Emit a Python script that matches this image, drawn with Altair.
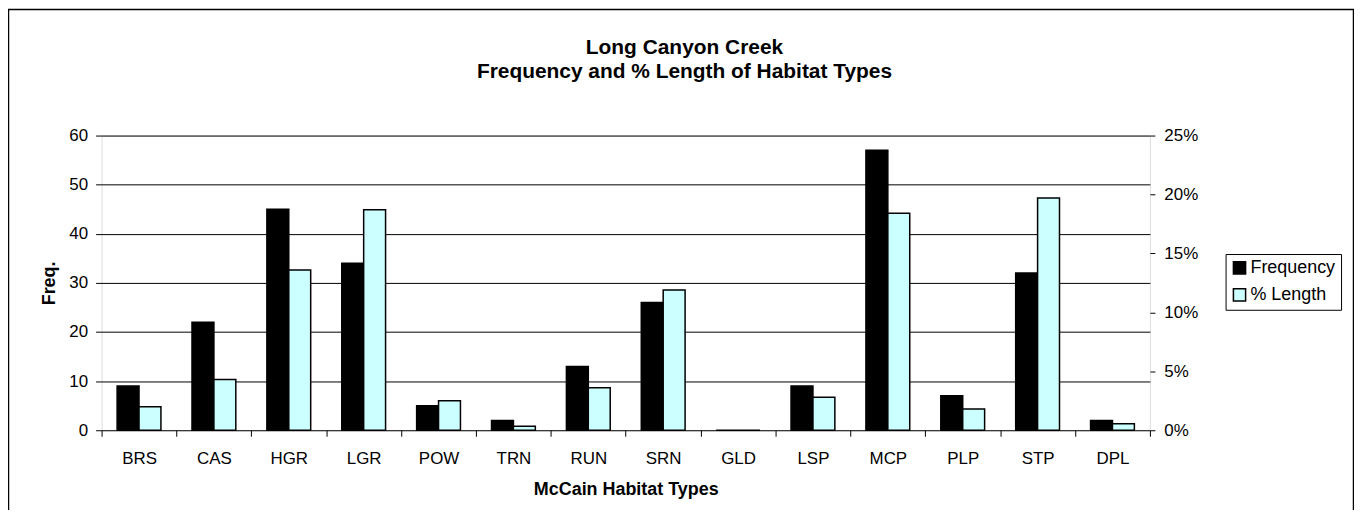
import altair as alt
import pandas as pd

HABITATS = ["BRS", "CAS", "HGR", "LGR", "POW", "TRN", "RUN", "SRN", "GLD", "LSP", "MCP", "PLP", "STP", "DPL"]
FREQUENCY = [9, 22, 45, 34, 5, 2, 13, 26, 0, 9, 57, 7, 32, 2]
PCT_LENGTH = [0.020, 0.043, 0.136, 0.187, 0.025, 0.0034, 0.036, 0.119, 0.0, 0.028, 0.184, 0.018, 0.197, 0.0056]
SERIES = ["Frequency", "% Length"]
COLORS = ["#000000", "#CCFFFF"]
FREQ_TICKS = [0, 10, 20, 30, 40, 50, 60]
PCT_TICKS = [0, 0.05, 0.10, 0.15, 0.20, 0.25]
TITLE = ["Long Canyon Creek", "Frequency and % Length of Habitat Types"]

FONT = "Liberation Sans"

rows = []
for h, f, p in zip(HABITATS, FREQUENCY, PCT_LENGTH):
    rows.append({"habitat": h, "series": SERIES[0], "value": f})
    rows.append({"habitat": h, "series": SERIES[1], "value": p})
df = pd.DataFrame(rows)

W, H = 1053, 296

x_enc = alt.X(
    "habitat:N",
    sort=HABITATS,
    scale=alt.Scale(domain=HABITATS, paddingInner=0, paddingOuter=0),
    axis=alt.Axis(
        title="McCain Habitat Types",
        labelAngle=0,
        tickBand="extent",
        tickSize=6,
        tickColor="black",
        labelFontSize=17,
        labelFont=FONT,
        labelColor="black",
        labelPadding=14,
        titleFont=FONT,
        titleFontSize=18,
        titleFontWeight="bold",
        titleColor="black",
        titleBaseline="alphabetic",
        titleY=65,
        domain=False,
        grid=False,
    ),
)
xoff = alt.XOffset(
    "series:N",
    sort=SERIES,
    scale=alt.Scale(domain=SERIES, paddingInner=0, paddingOuter=0.709),
)
color = alt.Color(
    "series:N",
    sort=SERIES,
    scale=alt.Scale(domain=SERIES, range=COLORS),
    legend=alt.Legend(
        title=None,
        orient="none",
        legendX=1129,
        legendY=119,
        symbolType="square",
        symbolSize=150,
        symbolStrokeColor="black",
        symbolStrokeWidth=1.5,
        labelFont=FONT,
        labelFontSize=18,
        labelColor="black",
        labelOffset=2,
        rowPadding=7,
        padding=5,
        strokeColor="black",
        fillColor="white",
        cornerRadius=0,
    ),
)

freq = alt.Chart(df).transform_filter(alt.datum.series == SERIES[0]).mark_bar(
    stroke="black", strokeWidth=1.5
).encode(
    x=x_enc,
    xOffset=xoff,
    color=color,
    y=alt.Y(
        "value:Q",
        scale=alt.Scale(domain=[0, 60], nice=False, zero=True),
        axis=alt.Axis(
            title="Freq.",
            orient="left",
            values=FREQ_TICKS,
            grid=True,
            gridColor="black",
            gridWidth=1,
            gridOpacity=1,
            tickSize=6,
            tickColor="black",
            labelFont=FONT,
            labelFontSize=17,
            labelColor="black",
            labelPadding=8,
            titleFont=FONT,
            titleFontSize=18,
            titleFontWeight="bold",
            titleColor="black",
            titleBaseline="alphabetic",
            titleX=-47,
            domain=False,
        ),
    ),
)

pct = alt.Chart(df).transform_filter(alt.datum.series == SERIES[1]).mark_bar(
    stroke="black", strokeWidth=1.5
).encode(
    x=x_enc,
    xOffset=xoff,
    color=color,
    y=alt.Y(
        "value:Q",
        scale=alt.Scale(domain=[0, 0.25], nice=False, zero=True),
        axis=alt.Axis(
            title=None,
            orient="right",
            values=PCT_TICKS,
            format=".0%",
            grid=False,
            tickSize=5,
            tickColor="black",
            labelFont=FONT,
            labelFontSize=17,
            labelColor="black",
            labelPadding=9,
            domain=False,
        ),
    ),
)

frame = alt.Chart(alt.Data(values=[{}])).mark_rule(color="black", strokeWidth=1.5).encode(
    x=alt.value(-93.5), x2=alt.value(-93.5), y=alt.value(-127), y2=alt.value(H + 80)
)
frame_top = alt.Chart(alt.Data(values=[{}])).mark_rule(color="black", strokeWidth=1.5).encode(
    x=alt.value(-94), x2=alt.value(W + 205), y=alt.value(-126.5), y2=alt.value(-126.5)
)
frame_right = alt.Chart(alt.Data(values=[{}])).mark_rule(color="black", strokeWidth=1.5).encode(
    x=alt.value(W + 204.5), x2=alt.value(W + 204.5), y=alt.value(-127), y2=alt.value(H + 80)
)

chart = alt.layer(freq, pct, frame, frame_top, frame_right).resolve_scale(
    y="independent"
).properties(
    width=W,
    height=H,
    autosize=alt.AutoSizeParams(type="none"),
    padding={"left": 94, "top": 127, "right": 205, "bottom": 80},
    title=alt.TitleParams(
        text=TITLE,
        font=FONT,
        fontSize=21,
        fontWeight="bold",
        color="black",
        anchor="middle",
        baseline="alphabetic",
        dx=59,
        dy=91,
        lineHeight=24,
        offset=0,
    ),
).configure_view(
    stroke="black", strokeWidth=2
).configure(background="white")

chart.save("out.html", embed_options={"renderer": "svg", "actions": False})
